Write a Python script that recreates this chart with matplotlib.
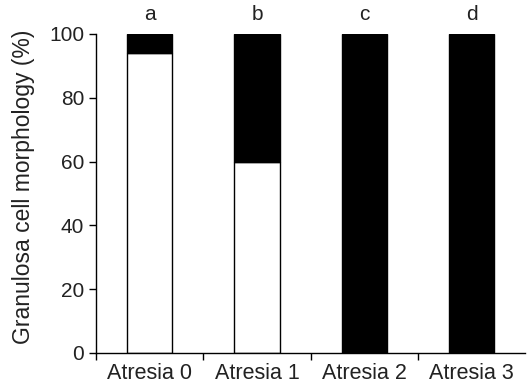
import numpy as np
import matplotlib.pyplot as plt

plt.rcParams['font.family'] = ['Liberation Sans', 'DejaVu Sans']

# dados
categorias = ["Atresia 0", "Atresia 1", "Atresia 2", "Atresia 3"]
normais = [94, 60, 0, 0]          # parte branca
atresicas = [6, 40, 100, 100]     # parte preta
letras = ["a", "b", "c", "d"]

fig = plt.figure(figsize=(5.31, 3.86), dpi=100)
ax = fig.add_axes([0.181, 0.0855, 0.808, 0.8265])

x = np.arange(len(categorias))
largura = 0.42
ax.bar(x, normais, largura, color='white', edgecolor='black', linewidth=1.0)
ax.bar(x, atresicas, largura, bottom=normais, color='black', edgecolor='black', linewidth=1.0)

for xi, letra in zip(x, letras):
    ax.text(xi, 103, letra, ha='center', va='bottom', fontsize=15, color='#222222')

ax.set_xlim(-0.5, 3.5)
ax.set_ylim(0, 100)
ax.spines['top'].set_visible(False)
ax.spines['right'].set_visible(False)
ax.spines['left'].set_linewidth(1.0)
ax.spines['bottom'].set_linewidth(1.0)

ax.set_yticks([0, 20, 40, 60, 80, 100])
ax.tick_params(axis='y', labelsize=15, length=5, width=1.0, labelcolor='#222222')
ax.set_xticks(x)
ax.set_xticklabels(categorias)
ax.set_xticks([-0.5, 0.5, 1.5, 2.5], minor=True)
ax.tick_params(axis='x', which='major', length=0, labelsize=15.5, pad=7, labelcolor='#222222')
ax.tick_params(axis='x', which='minor', length=5, width=1.0)

ax.set_ylabel("Granulosa cell morphology (%)", fontsize=16.5, color='#222222')
ax.yaxis.set_label_coords(-0.142, 0.522)

for s in ax.spines.values():
    s.set_clip_on(False)

fig.savefig("out.png", dpi=100)
